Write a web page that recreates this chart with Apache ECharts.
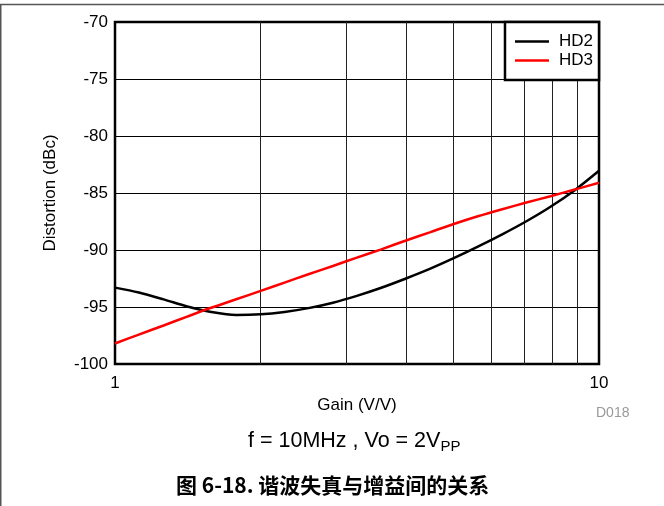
<!DOCTYPE html>
<html>
<head>
<meta charset="utf-8">
<script src="https://cdn.jsdelivr.net/npm/echarts@6/dist/echarts.min.js"></script>
<style>
html,body{margin:0;padding:0;background:#fff;}
#chart{width:664px;height:506px;}
</style>
</head>
<body>
<div id="chart"></div>
<script>
const gains = [1, 1.12, 1.26, 1.41, 1.58, 1.78, 2, 2.24, 2.51, 2.82, 3.16, 3.55, 3.98, 4.47, 5.01, 5.62, 6.31, 7.08, 7.94, 8.91, 10];
const hd2 = [-93.3, -93.73, -94.33, -94.95, -95.43, -95.7, -95.64, -95.43, -95.1, -94.62, -94.02, -93.31, -92.52, -91.66, -90.72, -89.71, -88.63, -87.48, -86.21, -84.75, -83.05];
const hd3 = [-98.2, -97.42, -96.62, -95.84, -95.07, -94.32, -93.59, -92.86, -92.13, -91.4, -90.67, -89.94, -89.19, -88.45, -87.72, -87.04, -86.42, -85.84, -85.28, -84.7, -84.1];
const xGridVals = [2, 3, 4, 5, 6, 7, 8, 9];

const FONT = '"Liberation Sans", Arial, "Noto Sans CJK SC", sans-serif';
const chart = echarts.init(document.getElementById('chart'), null, {renderer: 'canvas'});

const pairs = arr => gains.map((g, i) => [g, arr[i]]);

chart.setOption({
  animation: false,
  backgroundColor: '#fff',
  textStyle: {fontFamily: FONT},
  grid: {left: 115, top: 22, width: 484, height: 342, show: true, borderColor: '#000', borderWidth: 2.5, backgroundColor: 'transparent'},
  xAxis: {
    type: 'log', logBase: 10, min: 1, max: 10,
    name: 'Gain (V/V)', nameLocation: 'middle', nameGap: 33,
    nameTextStyle: {fontSize: 17, color: '#000', fontFamily: FONT},
    axisLine: {show: false}, axisTick: {show: false},
    axisLabel: {fontSize: 17, color: '#000', margin: 11, fontFamily: FONT},
    splitLine: {show: false}
  },
  yAxis: {
    type: 'value', min: -100, max: -70, interval: 5,
    name: 'Distortion (dBc)', nameLocation: 'middle', nameGap: 56,
    nameTextStyle: {fontSize: 17, color: '#000', fontFamily: FONT},
    axisLine: {show: false}, axisTick: {show: false},
    axisLabel: {fontSize: 17, color: '#000', margin: 7, fontFamily: FONT},
    splitLine: {show: true, lineStyle: {color: '#000', width: 1}}
  },
  legend: {
    orient: 'vertical', right: 65, top: 22,
    backgroundColor: '#fff', borderColor: '#000', borderWidth: 2.5,
    padding: [11, 6, 11, 10], itemGap: 2,
    itemWidth: 34, itemHeight: 2.5, icon: 'rect',
    textStyle: {fontSize: 17, color: '#000', fontFamily: FONT, padding: [0, 0, 0, 5]},
    data: ['HD2', 'HD3']
  },
  series: [
    {
      name: 'HD2', type: 'line', smooth: 0.3, symbol: 'none',
      data: pairs(hd2), lineStyle: {color: '#000', width: 2.5}, itemStyle: {color: '#000'}, z: 3,
      markLine: {
        silent: true, symbol: 'none', label: {show: false},
        lineStyle: {color: '#222', width: 1, type: 'solid'},
        data: xGridVals.map(v => ({xAxis: v})), z: 1
      }
    },
    {
      name: 'HD3', type: 'line', smooth: 0.3, symbol: 'none',
      data: pairs(hd3), lineStyle: {color: '#ff0000', width: 2.5}, itemStyle: {color: '#ff0000'}, z: 3
    }
  ],
  graphic: [
    {type: 'rect', shape: {x: 0.75, y: 4.5, width: 700, height: 600}, style: {fill: 'none', stroke: '#555', lineWidth: 1.5}, silent: true},
    {type: 'text', left: 596, top: 406, style: {text: 'D018', fontSize: 14, fill: '#999', fontFamily: FONT}},
    {type: 'text', left: 248, top: 428, style: {
      text: '{a|f = 10MHz , Vo = 2V}{s|PP}',
      rich: {
        a: {fontSize: 21.5, fontFamily: FONT, fill: '#000', lineHeight: 26},
        s: {fontSize: 15, fontFamily: FONT, fill: '#000', lineHeight: 26, padding: [11, 0, 0, 0]}
      }
    }},
    {type: 'text', left: 176, top: 475, style: {text: '图 6-18. 谐波失真与增益间的关系', fontSize: 21, fontWeight: 'bold', fill: '#000', fontFamily: '"Noto Sans CJK SC", sans-serif'}}
  ]
});
</script>
</body>
</html>
